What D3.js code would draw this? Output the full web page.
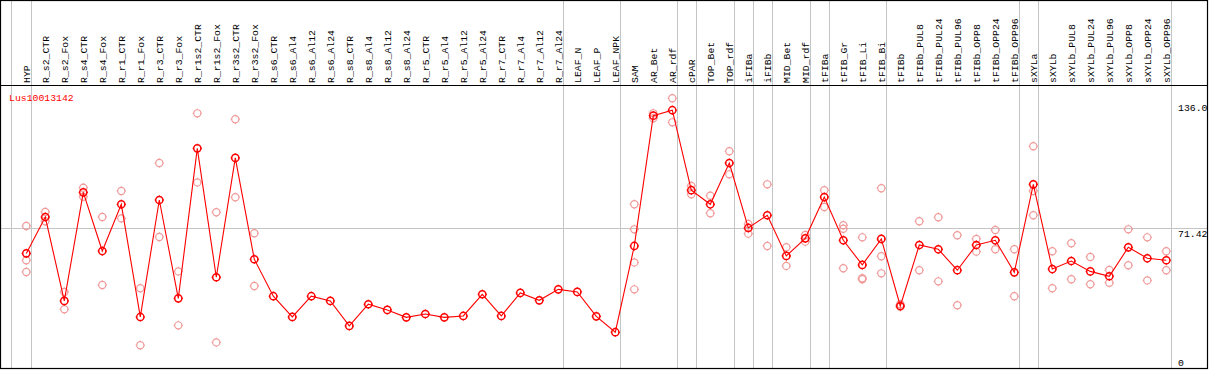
<!DOCTYPE html>
<html>
<head>
<meta charset="utf-8">
<script src="https://cdn.jsdelivr.net/npm/d3@7"></script>
<style>
  body { margin: 0; background: #fff; }
  svg { display: block; }
  text { font-family: "Liberation Mono", "DejaVu Sans Mono", monospace; font-size: 9.8px; }
</style>
</head>
<body>
<div id="chart"></div>
<script>
'use strict';

const geneName = 'Lus10013142';

const categories = [
    'HYP', 'R_s2_CTR', 'R_s2_Fox', 'R_s4_CTR', 'R_s4_Fox', 'R_r1_CTR', 'R_r1_Fox', 'R_r3_CTR', 'R_r3_Fox',
    'R_r1s2_CTR', 'R_r1s2_Fox', 'R_r3s2_CTR', 'R_r3s2_Fox', 'R_s6_CTR', 'R_s6_Al4', 'R_s6_Al12', 'R_s6_Al24',
    'R_s8_CTR', 'R_s8_Al4', 'R_s8_Al12', 'R_s8_Al24', 'R_r5_CTR', 'R_r5_Al4', 'R_r5_Al12', 'R_r5_Al24',
    'R_r7_CTR', 'R_r7_Al4', 'R_r7_Al12', 'R_r7_Al24', 'LEAF_N', 'LEAF_P', 'LEAF_NPK', 'SAM', 'AR_Bet', 'AR_rdf',
    'cPAR', 'TOP_Bet', 'TOP_rdf', 'iFIBa', 'iFIBb', 'MID_Bet', 'MID_rdf', 'tFIBa', 'tFIB_Gr', 'tFIB_Li', 'tFIB_Bi',
    'tFIBb', 'tFIBb_PUL8', 'tFIBb_PUL24', 'tFIBb_PUL96', 'tFIBb_OPP8', 'tFIBb_OPP24', 'tFIBb_OPP96',
    'sXYLa', 'sXYLb', 'sXYLb_PUL8', 'sXYLb_PUL24', 'sXYLb_PUL96', 'sXYLb_OPP8', 'sXYLb_OPP24', 'sXYLb_OPP96'
];

// mean expression per sample
const means = [
    58.6, 77.2, 34.3, 89.8, 59.8, 83.7, 26.1, 85.9, 35.6,
    112.3, 46.4, 107.4, 55.6, 36.7, 26.1, 36.7, 34.3,
    21.5, 32.6, 29.7, 25.9, 27.6, 25.9, 26.6, 37.7,
    26.6, 38.4, 34.6, 40.2, 38.9, 26.4, 18.3, 62.4, 129.0, 131.8,
    90.9, 83.7, 104.8, 71.6, 78.1, 57.3, 66.3, 87.4, 65.3, 52.7, 66.0,
    31.7, 62.9, 60.7, 50.0, 62.9, 65.3, 48.9,
    93.9, 50.6, 54.7, 49.4, 46.9, 61.7, 56.1, 55.1
];

// individual replicates (empty where they sit on the mean)
const replicates = [
    [72.6, 55.1, 49.1], [79.8, 75.0], [38.9, 30.0], [92.2, 87.6], [77.2, 42.4], [90.5, 76.5], [40.8, 11.6],
    [104.8, 67.0], [49.4, 21.8], [130.2, 94.9], [79.6, 13.1], [127.2, 87.3], [68.9, 41.9],
    [], [], [], [], [], [], [], [], [], [], [], [], [], [], [], [], [], [], [],
    [83.7, 70.9, 54.0, 40.2], [130.2, 127.7], [137.9, 125.6],
    [93.1, 88.8], [88.1, 79.1], [110.8, 99.0], [73.6, 68.7], [93.9, 62.4], [61.7, 52.2], [68.0, 64.6],
    [90.9, 82.3], [73.0, 71.2, 51.0], [66.8, 45.9, 45.4], [91.9, 57.1, 48.4],
    [32.6, 31.3], [75.0, 50.0], [77.1, 44.3], [67.9, 32.1], [66.0, 59.5], [70.6, 60.7], [60.7, 36.7],
    [113.4, 90.5, 78.1], [59.7, 40.8], [63.8, 45.4], [56.8, 42.8], [50.1, 43.6], [70.9, 52.5], [66.8, 44.8], [59.7, 50.0]
];

// last sample of each tissue group (a separator follows it)
const groupEnds = ['HYP', 'R_r7_Al24', 'LEAF_NPK', 'AR_rdf', 'cPAR', 'TOP_rdf', 'iFIBa', 'iFIBb',
    'MID_rdf', 'tFIBa', 'tFIB_Bi', 'tFIBb_OPP96', 'sXYLa', 'sXYLb_OPP96'];

const yTicks = [136.0, 71.42, 0];
const yTickLabels = ['136.0', '71.42', '0'];

const width = 1209, height = 370;
const headerBottom = 85.5, plotBottom = 368.5, plotRight = 1207.5;
const red = '#ff0000', pink = '#f09a9a', grid = '#c4c4c4';

let svg = d3.select('#chart').append('svg')
    .attr('width', width)
    .attr('height', height);

let x = d3.scalePoint().domain(categories).range([26.3, 1166.3]);
let y = d3.scaleLinear().domain([0, 136]).range([368, 102]);

// vertical separators run through the header as well
let sepX = [x(categories[0]) - 15.6].concat(groupEnds.map(function(c) { return x(c) + 4.4; }));
svg.append('g').selectAll('line')
    .data(sepX)
    .join('line')
    .attr('x1', d => Math.round(d) + 0.5).attr('x2', d => Math.round(d) + 0.5)
    .attr('y1', 0).attr('y2', plotBottom)
    .attr('stroke', grid).attr('stroke-width', 1);

// horizontal grid at mean level
svg.append('line')
    .attr('x1', 0).attr('x2', plotRight)
    .attr('y1', Math.round(y(71.42)) + 0.5).attr('y2', Math.round(y(71.42)) + 0.5)
    .attr('stroke', grid).attr('stroke-width', 1);

// frame
svg.append('rect')
    .attr('x', 0.5).attr('y', 0.5)
    .attr('width', plotRight - 0.5).attr('height', plotBottom - 0.5)
    .attr('fill', 'none').attr('stroke', '#000').attr('stroke-width', 1.2);
svg.append('line')
    .attr('x1', 0).attr('x2', plotRight)
    .attr('y1', headerBottom).attr('y2', headerBottom)
    .attr('stroke', '#000').attr('stroke-width', 1.2);

// rotated sample labels
svg.append('g').selectAll('text')
    .data(categories)
    .join('text')
    .attr('transform', d => `translate(${x(d) + 3.6},83) rotate(-90)`)
    .attr('fill', '#000')
    .text(d => d);

svg.append('text')
    .attr('x', 9).attr('y', 100.5)
    .attr('fill', red)
    .text(geneName);

// right-hand value labels, hung under their level
svg.append('g').selectAll('text')
    .data(yTicks)
    .join('text')
    .attr('x', 1178)
    .attr('y', (d, i) => Math.min(y(d) + 8.5, 365.5))
    .attr('fill', '#000')
    .text((d, i) => yTickLabels[i]);

function marker(g, cx, cy, color, sw) {
    let r = 3.6;
    g.append('circle')
        .attr('cx', cx).attr('cy', cy).attr('r', r)
        .attr('fill', 'none').attr('stroke', color).attr('stroke-width', sw);
    [[0, -1], [0, 1], [-1, 0], [1, 0]].forEach(function(dir) {
        g.append('line')
            .attr('x1', cx + dir[0] * r).attr('y1', cy + dir[1] * r)
            .attr('x2', cx + dir[0] * (r + 1.1)).attr('y2', cy + dir[1] * (r + 1.1))
            .attr('stroke', color).attr('stroke-width', 1);
    });
}

let repG = svg.append('g');
categories.forEach(function(c, i) {
    replicates[i].forEach(function(v) { marker(repG, x(c), y(v), pink, 1.2); });
});

svg.append('path')
    .datum(means)
    .attr('fill', 'none')
    .attr('stroke', red)
    .attr('stroke-width', 1.1)
    .attr('d', d3.line().x((d, i) => x(categories[i])).y(d => y(d)));

let meanG = svg.append('g');
categories.forEach(function(c, i) { marker(meanG, x(c), y(means[i]), red, 1.5); });
</script>
</body>
</html>
